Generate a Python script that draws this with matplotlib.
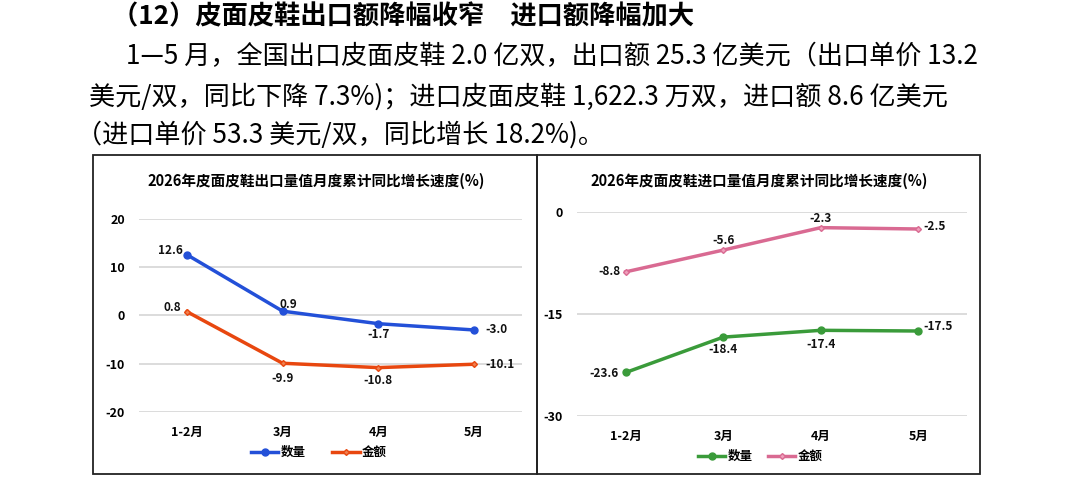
import matplotlib
matplotlib.use('Agg')
import matplotlib.pyplot as plt
from matplotlib.patches import Rectangle

plt.rcParams['font.family'] = ['Noto Sans CJK SC', 'DejaVu Sans']
plt.rcParams['axes.unicode_minus'] = False

#---    Datos
months = ['1-2月', '3月', '4月', '5月']
export_qty = [12.6, 0.9, -1.7, -3.0]
export_val = [0.8, -9.9, -10.8, -10.1]
import_qty = [-23.6, -18.4, -17.4, -17.5]
import_val = [-8.8, -5.6, -2.3, -2.5]

heading = '（12）皮面皮鞋出口额降幅收窄　进口额降幅加大'
body = ['1—5 月，全国出口皮面皮鞋 2.0 亿双，出口额 25.3 亿美元（出口单价 13.2',
        '美元/双，同比下降 7.3%)；进口皮面皮鞋 1,622.3 万双，进口额 8.6 亿美元',
        '（进口单价 53.3 美元/双，同比增长 18.2%)。']
title_exp = '2026年皮面皮鞋出口量值月度累计同比增长速度(%)'
title_imp = '2026年皮面皮鞋进口量值月度累计同比增长速度(%)'

W, H = 1085, 480
def fx(x): return x / W
def fy(y): return 1 - y / H

fig = plt.figure(figsize=(10.85, 4.8), dpi=100)

#---    Texto
fig.text(fx(112), fy(17), heading, fontsize=18.9, fontweight='bold', va='center')
fig.text(fx(126), fy(57), body[0], fontsize=18.8, va='center')
fig.text(fx(89), fy(97), body[1], fontsize=18.8, va='center')
fig.text(fx(76), fy(135), body[2], fontsize=18.8, va='center')

#---    Marcos
for x0, x1 in [(93, 537), (537, 980)]:
    fig.add_artist(Rectangle((fx(x0), fy(474)), (x1 - x0) / W, (474 - 155) / H,
                             transform=fig.transFigure, fill=False, edgecolor='#222222', lw=1.3))

def style_axes(ax):
    for s in ax.spines.values():
        s.set_visible(False)
    ax.yaxis.grid(True, color='#D9D9D9', lw=1.3)
    ax.set_axisbelow(True)
    ax.tick_params(length=0, labelsize=9)
    ax.tick_params(axis='x', pad=10, labelsize=9)
    ax.tick_params(axis='y', pad=10)
    for lab in ax.get_xticklabels() + ax.get_yticklabels():
        lab.set_fontweight('bold')
    ax.set_xlim(-0.5, 3.5)

def label(ax, xs, ys, offsets, aligns):
    for x, y, (dx, dy), ha in zip(xs, ys, offsets, aligns):
        ax.annotate(f'{y:.1f}', (x, y), xytext=(dx, dy), textcoords='offset points',
                    ha=ha, va='center', fontsize=8.5, fontweight='bold', color='#111111')

x = list(range(len(months)))

#---    Exportaciones
ax1 = fig.add_axes([fx(139), fy(412), 383 / W, 193 / H])
ax1.plot(x, export_qty, color='#2350D8', lw=2.5, marker='o', ms=5, label='数量')
ax1.plot(x, export_val, color='#E8470F', lw=2.5, marker='D', ms=3, mfc='#F08050', label='金额')
ax1.set_ylim(-20, 20)
ax1.set_yticks([-20, -10, 0, 10, 20])
ax1.set_xticks(x, months)
style_axes(ax1)
label(ax1, x, export_qty, [(-3, 3), (4, 5), (0, -8), (8, 0)], ['right', 'center', 'center', 'left'])
label(ax1, x, export_val, [(-4, 3), (0, -11), (0, -9), (8, 0)], ['right', 'center', 'center', 'left'])
ax1.legend(loc='center', bbox_to_anchor=(0.47, -0.21), ncol=2, frameon=False,
           prop={'weight': 'bold', 'size': 9}, handlelength=2.2, columnspacing=2.1,
           handletextpad=0.2)
fig.text(fx(316), fy(181), title_exp, fontsize=10.5, fontweight='bold', ha='center', va='center')

#---    Importaciones
ax2 = fig.add_axes([fx(577), fy(416), 390 / W, 204 / H])
ax2.plot(x, import_qty, color='#3A9B3A', lw=2.5, marker='o', ms=5, label='数量')
ax2.plot(x, import_val, color='#D96A92', lw=2.5, marker='D', ms=3, mfc='#F0A0BC', label='金额')
ax2.set_ylim(-30, 0)
ax2.set_yticks([-30, -15, 0])
ax2.set_xticks(x, months)
style_axes(ax2)
label(ax2, x, import_qty, [(-5, -1), (0, -9), (0, -10), (4, 3)], ['right', 'center', 'center', 'left'])
label(ax2, x, import_val, [(-4, 0), (0, 7), (0, 6.5), (3.5, 2)], ['right', 'center', 'center', 'left'])
ax2.legend(loc='center', bbox_to_anchor=(0.47, -0.2), ncol=2, frameon=False,
           prop={'weight': 'bold', 'size': 9}, handlelength=2.2, columnspacing=1.2,
           handletextpad=0.2)
fig.text(fx(759), fy(181), title_imp, fontsize=10.5, fontweight='bold', ha='center', va='center')

plt.savefig('out.png', dpi=100)
